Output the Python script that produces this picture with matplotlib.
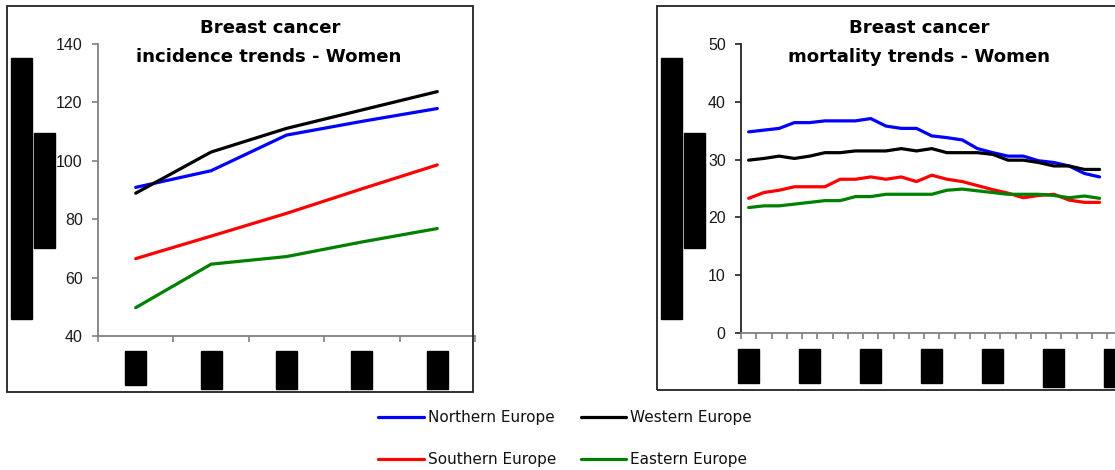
import matplotlib
matplotlib.use("Agg")
import matplotlib.pyplot as plt
from matplotlib.patches import Rectangle
from matplotlib.transforms import blended_transform_factory

W, H = 1115, 470

regions = ["Northern Europe", "Western Europe", "Southern Europe", "Eastern Europe"]
colors = ["#0000FF", "#000000", "#FF0000", "#008000"]

# incidenca - 5 razdoblja (oznake su zacrnjene u originalu)
inc_northern = [90.9, 96.6, 108.8, 113.5, 117.9]
inc_western = [88.9, 103.0, 111.1, 117.4, 123.7]
inc_southern = [66.5, 74.2, 82.0, 90.4, 98.6]
inc_eastern = [49.7, 64.6, 67.2, 72.2, 76.8]

# mortalitet - 24 godine
mort_northern = [34.8, 35.1, 35.4, 36.4, 36.4, 36.7, 36.7, 36.7, 37.1, 35.8, 35.4, 35.4,
                 34.1, 33.8, 33.4, 31.9, 31.2, 30.6, 30.6, 29.8, 29.5, 28.9, 27.6, 27.0]
mort_western = [29.9, 30.2, 30.6, 30.2, 30.6, 31.2, 31.2, 31.5, 31.5, 31.5, 31.9, 31.5,
                31.9, 31.2, 31.2, 31.2, 30.9, 29.9, 29.9, 29.5, 28.9, 28.9, 28.3, 28.3]
mort_southern = [23.3, 24.3, 24.7, 25.3, 25.3, 25.3, 26.6, 26.6, 27.0, 26.6, 27.0, 26.2,
                 27.3, 26.6, 26.2, 25.5, 24.8, 24.2, 23.4, 23.8, 24.0, 23.0, 22.6, 22.6]
mort_eastern = [21.7, 22.0, 22.0, 22.3, 22.6, 22.9, 22.9, 23.6, 23.6, 24.0, 24.0, 24.0,
                24.0, 24.7, 24.9, 24.6, 24.3, 24.0, 24.0, 24.0, 23.8, 23.4, 23.7, 23.3]

inc_series = [inc_northern, inc_western, inc_southern, inc_eastern]
mort_series = [mort_northern, mort_western, mort_southern, mort_eastern]
n_mort_cats = 26  # os se nastavlja iza ruba slike


def fx(px):
    return px / W


def fy(py):
    return 1 - py / H


fig = plt.figure(figsize=(W / 100, H / 100), dpi=100)
fig.patch.set_facecolor("white")

# okviri oko grafova
fig.add_artist(Rectangle((fx(7), fy(392)), fx(473) - fx(7), (392 - 6) / H,
                         transform=fig.transFigure, fill=False, edgecolor="#222222", lw=1.3))
fig.add_artist(Rectangle((fx(657), fy(390)), fx(1250) - fx(657), (390 - 6) / H,
                         transform=fig.transFigure, fill=False, edgecolor="#222222", lw=1.3))

ax1 = fig.add_axes([fx(98), fy(336), 377 / W, 292 / H])
ax2 = fig.add_axes([fx(741), fy(333), n_mort_cats * 15.26 / W, 289 / H])

lines = []
for vals, name, c in zip(inc_series, regions, colors):
    ln, = ax1.plot(range(len(vals)), vals, color=c, lw=2.3, label=name,
                   solid_joinstyle="round", solid_capstyle="round")
    lines.append(ln)
for vals, name, c in zip(mort_series, regions, colors):
    ax2.plot(range(len(vals)), vals, color=c, lw=2.3,
             solid_joinstyle="round", solid_capstyle="round")

ax1.set_xlim(-0.5, len(inc_northern) - 0.5)
ax1.set_ylim(40, 140)
ax1.set_yticks(range(40, 141, 20))
ax1.set_xticks([i - 0.5 for i in range(len(inc_northern) + 1)])

ax2.set_xlim(-0.5, n_mort_cats - 0.5)
ax2.set_ylim(0, 50)
ax2.set_yticks(range(0, 51, 10))
ax2.set_xticks([i - 0.5 for i in range(n_mort_cats + 1)])

for ax, ycol in [(ax1, "#808080"), (ax2, "#222222")]:
    ax.set_facecolor("none")
    ax.spines["top"].set_visible(False)
    ax.spines["right"].set_visible(False)
    ax.spines["left"].set_color(ycol)
    ax.spines["bottom"].set_color("#808080")
    ax.spines["left"].set_linewidth(1.3)
    ax.spines["bottom"].set_linewidth(1.3)
    ax.set_xticklabels([])
    ax.tick_params(axis="x", length=4.5, width=1.2, color="#808080")
    ax.tick_params(axis="y", length=4.5, width=1.2, color=ycol, pad=6.5,
                   labelsize=11.5, labelcolor="#1a1a1a")
    for lab in ax.get_yticklabels():
        lab.set_fontfamily("Liberation Sans")
    ax.spines["left"].set_clip_on(False)

# zacrnjene oznake x osi
t1 = blended_transform_factory(ax1.transData, fig.transFigure)
w1 = 21 / 75.4
for i in range(len(inc_northern)):
    y_bot = 385 if i == 0 else 389
    fig.add_artist(Rectangle((i - w1 / 2, fy(y_bot)), w1, (y_bot - 351) / H,
                             transform=t1, color="black", clip_on=False))
t2 = blended_transform_factory(ax2.transData, fig.transFigure)
w2 = 21 / 15.26
for i in range(0, n_mort_cats, 4):
    y_bot = 387 if i >= 20 else 383
    fig.add_artist(Rectangle((i - w2 / 2, fy(y_bot)), w2, (y_bot - 349) / H,
                             transform=t2, color="black", clip_on=False))

# zacrnjene oznake y osi
for x0 in (11, 661):
    fig.add_artist(Rectangle((fx(x0), fy(319)), 21 / W, (319 - 58) / H,
                             transform=fig.transFigure, color="black"))
    fig.add_artist(Rectangle((fx(x0 + 23), fy(248)), 21 / W, (248 - 133) / H,
                             transform=fig.transFigure, color="black"))

# naslovi
title_kw = dict(ha="center", va="baseline", fontsize=13.1, fontweight="bold",
                family="DejaVu Sans", color="black")
fig.text(fx(270), fy(33), "Breast cancer", **title_kw)
fig.text(fx(269), fy(62), "incidence trends - Women", **title_kw)
fig.text(fx(919), fy(33), "Breast cancer", **title_kw)
fig.text(fx(919), fy(62), "mortality trends - Women", **title_kw)

# legenda: po stupcima N, S | W, E
order = [0, 2, 1, 3]
fig.legend([lines[i] for i in order], [regions[i] for i in order],
           loc="center", bbox_to_anchor=(fx(565), fy(438.5)), ncol=2, frameon=False,
           prop={"family": "DejaVu Sans", "size": 11}, handlelength=3.0,
           handletextpad=0.25, labelspacing=1.78, columnspacing=1.6,
           labelcolor="#111111")

fig.savefig("out.png", dpi=100)
